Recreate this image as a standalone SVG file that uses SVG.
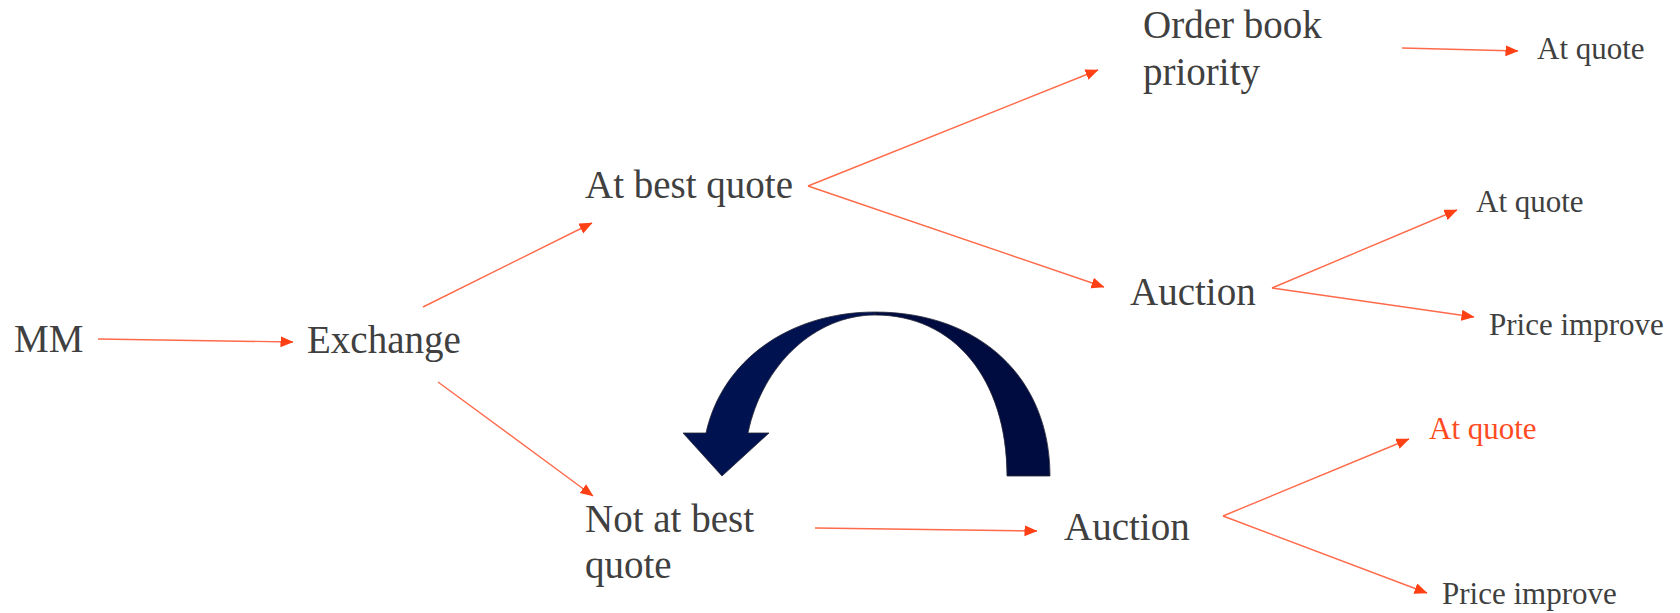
<svg xmlns="http://www.w3.org/2000/svg" width="1680" height="613" viewBox="0 0 1680 613">
  <style>
    .big { font-family: "Liberation Serif", "Times New Roman", serif; font-size: 39px; fill: #404040; }
    .small { font-family: "Liberation Serif", "Times New Roman", serif; font-size: 31px; fill: #404040; }
    .red { fill: #FF4B1F; }
    .conn { stroke: #FF6A4A; stroke-width: 1.4; fill: none; marker-end: url(#ah); }
  </style>
  <defs>
    <marker id="ah" markerUnits="userSpaceOnUse" markerWidth="13" markerHeight="12" refX="12.5" refY="5.5" orient="auto">
      <path d="M0,0 L13,5.5 L0,11 Z" fill="#FF4015"/>
    </marker>
  </defs>
  <rect width="1680" height="613" fill="#FFFFFF"/>

  <g id="connectors">
    <line class="conn" x1="98" y1="339" x2="293" y2="342"/>
    <line class="conn" x1="423" y1="307" x2="592" y2="223"/>
    <line class="conn" x1="438" y1="382" x2="593" y2="496"/>
    <line class="conn" x1="808" y1="186" x2="1098" y2="70"/>
    <line class="conn" x1="808" y1="186" x2="1104" y2="287"/>
    <line class="conn" x1="1402" y1="48" x2="1518" y2="51"/>
    <line class="conn" x1="1272" y1="288" x2="1457" y2="210"/>
    <line class="conn" x1="1272" y1="288" x2="1474" y2="317"/>
    <line class="conn" x1="815" y1="528" x2="1037" y2="531"/>
    <line class="conn" x1="1223" y1="516" x2="1409" y2="439"/>
    <line class="conn" x1="1223" y1="516" x2="1427" y2="593"/>
  </g>

  <g id="curved-arrow">
    <path d="M875,312 C980,312 1050,378 1050,476 L1007,476 C1007,379 954,315 875,315 Z" fill="#000C3F" stroke="#2a2a3a" stroke-width="0.8"/>
    <path d="M875,312 C790,312 722,360 706,433 L683,433 L722,476 L769,433 L748,433 C762,365 815,315 875,315 Z" fill="#00124F" stroke="#2a2a3a" stroke-width="0.8"/>
  </g>

  <g id="node-mm"><text class="big" x="14" y="352">MM</text></g>
  <g id="node-exchange"><text class="big" x="307" y="353">Exchange</text></g>
  <g id="node-at-best-quote"><text class="big" x="585" y="198">At best quote</text></g>
  <g id="node-order-book"><text class="big" x="1143" y="38">Order book</text><text class="big" x="1143" y="85">priority</text></g>
  <g id="node-auction-top"><text class="big" x="1130" y="305">Auction</text></g>
  <g id="node-not-at-best"><text class="big" x="585" y="532">Not at best</text><text class="big" x="585" y="578">quote</text></g>
  <g id="node-auction-bottom"><text class="big" x="1064" y="540">Auction</text></g>
  <g id="node-at-quote-1"><text class="small" x="1537" y="59">At quote</text></g>
  <g id="node-at-quote-2"><text class="small" x="1476" y="212">At quote</text></g>
  <g id="node-price-improve-1"><text class="small" x="1489" y="335">Price improve</text></g>
  <g id="node-at-quote-3"><text class="small red" x="1429" y="439">At quote</text></g>
  <g id="node-price-improve-2"><text class="small" x="1442" y="604">Price improve</text></g>
</svg>
